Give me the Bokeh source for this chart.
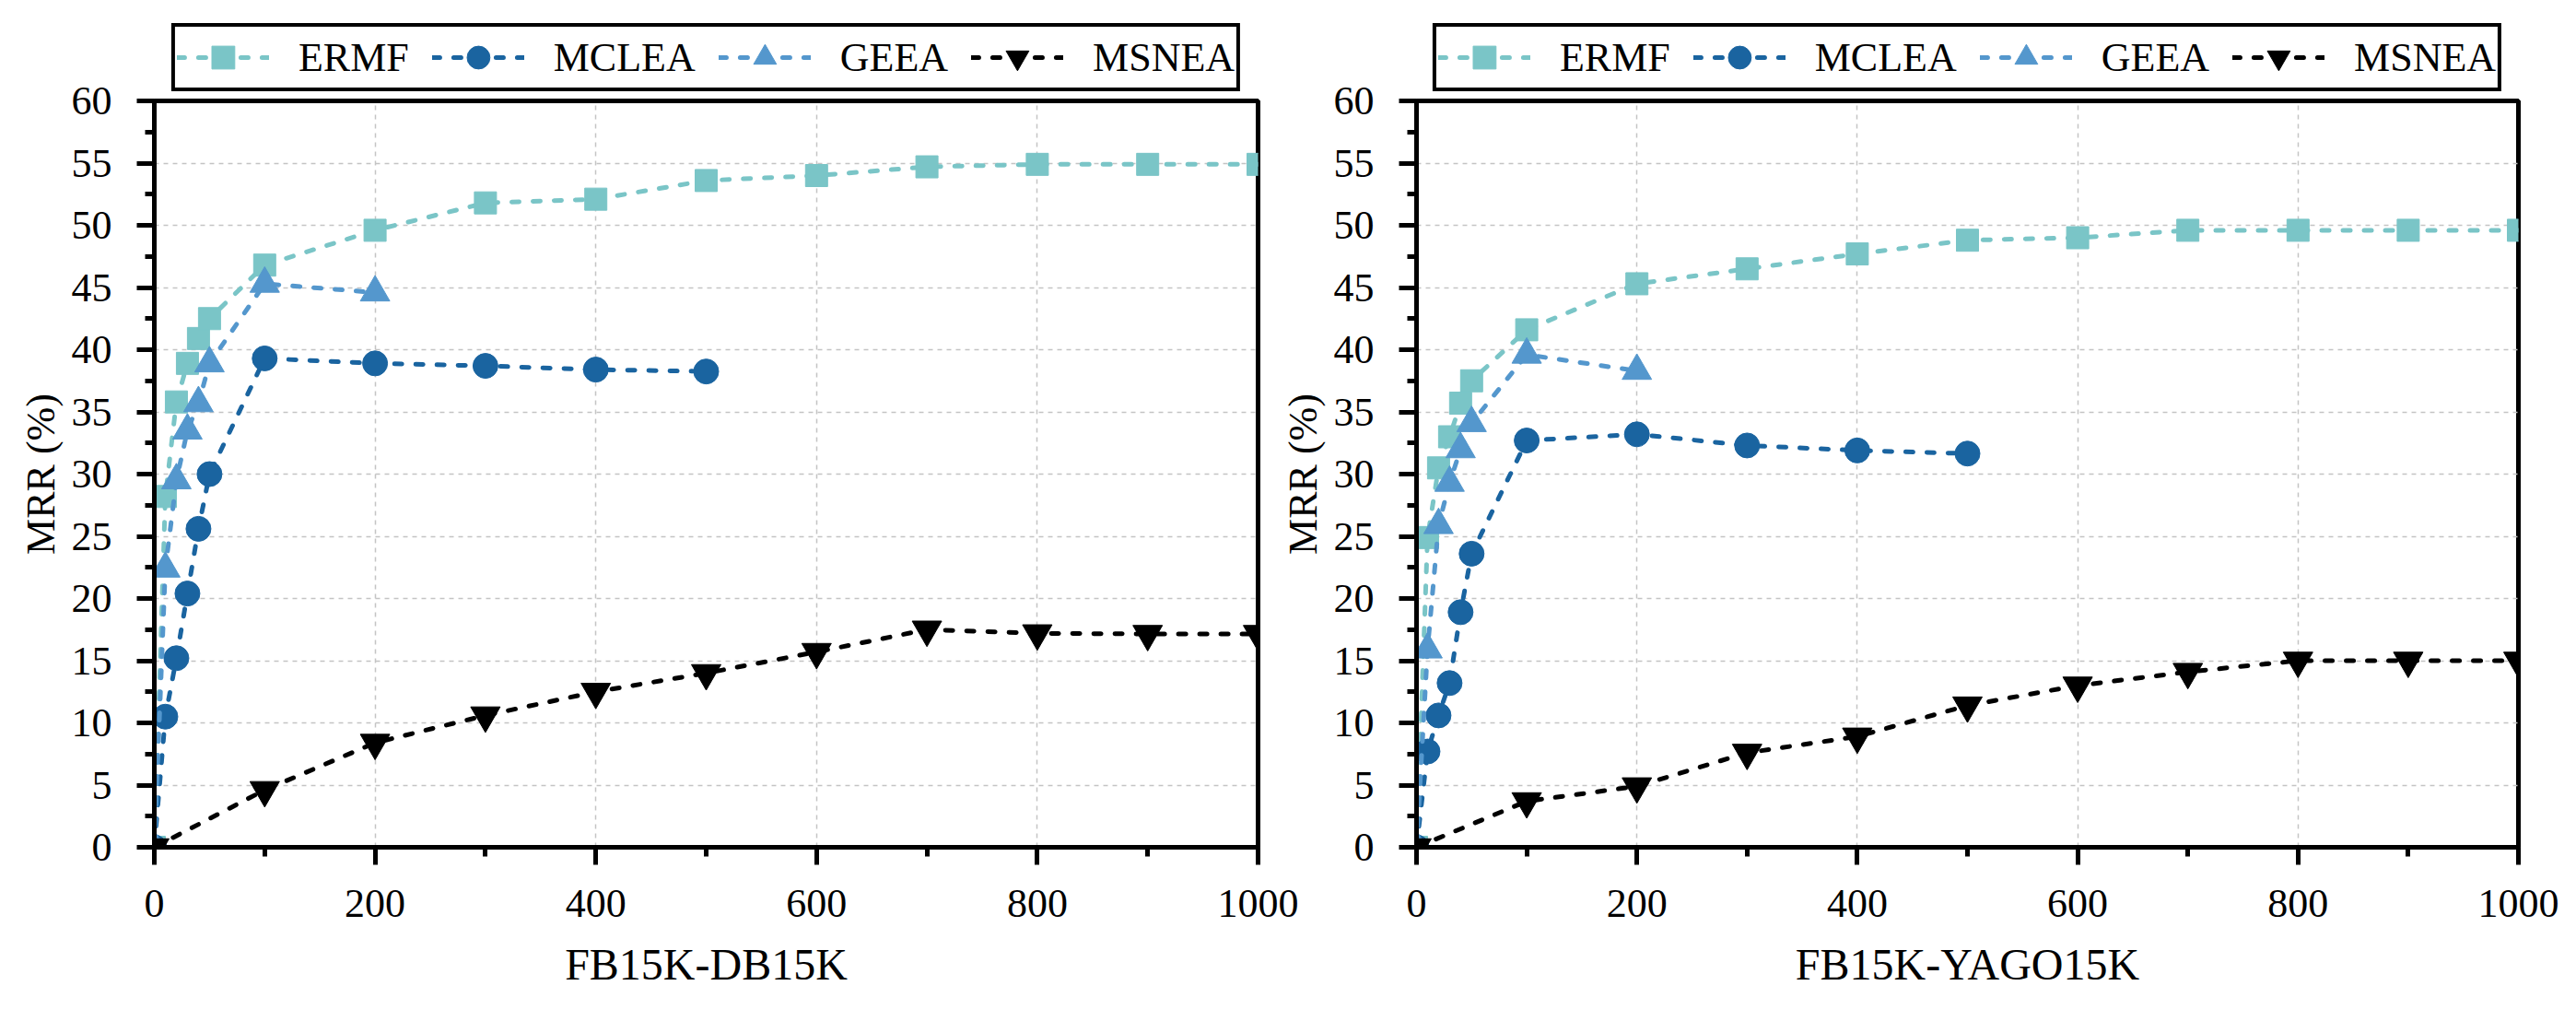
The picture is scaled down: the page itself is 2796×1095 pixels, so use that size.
from bokeh.plotting import figure
from bokeh.models import Legend, LegendItem, SingleIntervalTicker, Range1d
from bokeh.layouts import row, column
from bokeh.embed import file_html
from bokeh.resources import INLINE

# ---- data ----
methods = ["ERMF", "MCLEA", "GEEA", "MSNEA"]

steps_ermf = [0, 10, 20, 30, 40, 50, 100, 200, 300, 400, 500, 600, 700, 800, 900, 1000]
steps_mclea = [0, 10, 20, 30, 40, 50, 100, 200, 300, 400, 500]
steps_geea = [0, 10, 20, 30, 40, 50, 100, 200]
steps_msnea = [0, 100, 200, 300, 400, 500, 600, 700, 800, 900, 1000]

db_ermf = [0, 28.2, 35.8, 38.9, 40.9, 42.5, 46.8, 49.6, 51.8, 52.1, 53.6, 54.0, 54.7, 54.9, 54.9, 54.9]
db_mclea = [0, 10.5, 15.2, 20.4, 25.6, 30.0, 39.3, 38.9, 38.7, 38.4, 38.25]
db_geea = [0, 22.4, 29.5, 33.5, 35.7, 38.9, 45.3, 44.6]
db_msnea = [0, 4.6, 8.4, 10.6, 12.5, 14.0, 15.7, 17.5, 17.2, 17.15, 17.15]

yago_ermf = [0, 24.9, 30.5, 33.0, 35.7, 37.5, 41.6, 45.3, 46.5, 47.7, 48.8, 49.0, 49.6, 49.6, 49.6, 49.6]
yago_mclea = [0, 7.7, 10.6, 13.2, 18.9, 23.6, 32.7, 33.2, 32.3, 31.9, 31.65]
yago_geea = [0, 15.9, 25.9, 29.3, 32.0, 34.1, 39.6, 38.3]
yago_msnea = [0, 3.7, 4.9, 7.6, 8.9, 11.4, 13.0, 14.1, 15.0, 15.0, 15.0]

x_titles = ["FB15K-DB15K", "FB15K-YAGO15K"]
y_title = "MRR (%)"

# ---- styles ----
colors = ["#7AC5C7", "#1A64A0", "#5497CD", "#000000"]
markers = ["square", "circle", "triangle", "inverted_triangle"]
msizes = [24, 27, 32, 32]
FONT = "Liberation Serif"
LINE_KW = dict(line_width=5, line_dash="8 15", line_cap="round")


def add_series(fig, xs_list, ys_list):
    out = []
    for xs, ys, c, m, s in zip(xs_list, ys_list, colors, markers, msizes):
        lr = fig.line(xs, ys, line_color=c, **LINE_KW)
        sr = fig.scatter(xs, ys, marker=m, size=s, fill_color=c, line_color=c,
                         line_width=1)
        out.append((lr, sr))
    return out


def make_panel(xs_list, ys_list, xtitle, frame_w, border_l, border_r):
    p = figure(frame_width=frame_w, frame_height=810,
               x_range=Range1d(0, 1000), y_range=Range1d(0, 60),
               output_backend="svg", toolbar_location=None,
               min_border_left=border_l, min_border_right=border_r,
               min_border_top=40, min_border_bottom=170,
               background_fill_color="white")
    p.title.visible = False
    p.border_fill_alpha = 0
    p.outline_line_color = "black"
    p.outline_line_width = 5
    p.outline_line_alpha = 1

    p.xaxis.ticker = SingleIntervalTicker(interval=200, num_minor_ticks=2)
    p.yaxis.ticker = SingleIntervalTicker(interval=5, num_minor_ticks=2)
    for ax in (p.xaxis[0], p.yaxis[0]):
        ax.axis_line_width = 5
        ax.axis_line_color = "black"
        ax.major_tick_line_width = 5
        ax.minor_tick_line_width = 5
        ax.major_tick_out = 19
        ax.major_tick_in = 0
        ax.minor_tick_out = 10
        ax.minor_tick_in = 0
        ax.major_label_text_font = FONT
        ax.major_label_text_font_size = "44px"
        ax.major_label_text_color = "black"
        ax.axis_label_text_font = FONT
        ax.axis_label_text_font_style = "normal"
        ax.axis_label_text_color = "black"
    p.xaxis.axis_label = xtitle
    p.xaxis.axis_label_text_font_size = "48px"
    p.xaxis.major_label_standoff = 27
    p.xaxis.axis_label_standoff = 22
    p.yaxis.axis_label = y_title
    p.yaxis.axis_label_text_font_size = "44px"
    p.yaxis.major_label_standoff = 27
    p.yaxis.axis_label_standoff = 6

    for g in (p.xgrid[0], p.ygrid[0]):
        g.grid_line_color = "#c4c4c4"
        g.grid_line_dash = "5 5"
        g.grid_line_width = 1.5

    add_series(p, xs_list, ys_list)
    return p


def make_legend_strip(xs_list, ys_list, frame_w, border_l, border_r):
    # series drawn outside this strip's ranges; only the legend is visible
    q = figure(frame_width=frame_w, frame_height=108,
               x_range=Range1d(-2, -1), y_range=Range1d(-2, -1),
               x_axis_location=None, y_axis_location=None,
               output_backend="svg", toolbar_location=None,
               min_border_left=border_l, min_border_right=border_r,
               min_border_top=8, min_border_bottom=0)
    q.title.visible = False
    q.outline_line_color = None
    q.grid.visible = False
    rends = add_series(q, xs_list, ys_list)
    items = [LegendItem(label=name, renderers=[lr, sr])
             for name, (lr, sr) in zip(methods, rends)]
    legend = Legend(items=items, orientation="horizontal", location="center",
                    glyph_width=100, glyph_height=62, label_standoff=32,
                    spacing=25, padding=2, margin=0,
                    border_line_color="black", border_line_width=4,
                    border_line_alpha=1,
                    label_text_font=FONT, label_text_font_size="44px",
                    label_text_color="black", background_fill_color="white",
                    background_fill_alpha=1)
    q.add_layout(legend, "center")
    return q


db_x = [steps_ermf, steps_mclea, steps_geea, steps_msnea]
db_y = [db_ermf, db_mclea, db_geea, db_msnea]
yago_y = [yago_ermf, yago_mclea, yago_geea, yago_msnea]

p1 = make_panel(db_x, db_y, x_titles[0], 1198, 167, 60)
p2 = make_panel(db_x, yago_y, x_titles[1], 1196, 159, 50)
l1 = make_legend_strip(db_x, db_y, 1198, 167, 60)
l2 = make_legend_strip(db_x, yago_y, 1196, 159, 50)

l2.margin = (0, 0, 0, -47)
p1.margin = (-47, 0, 0, 0)
p2.margin = (-47, 0, 0, -47)

layout = column(row(l1, l2), row(p1, p2))
open("out.html", "w").write(file_html(layout, INLINE))
